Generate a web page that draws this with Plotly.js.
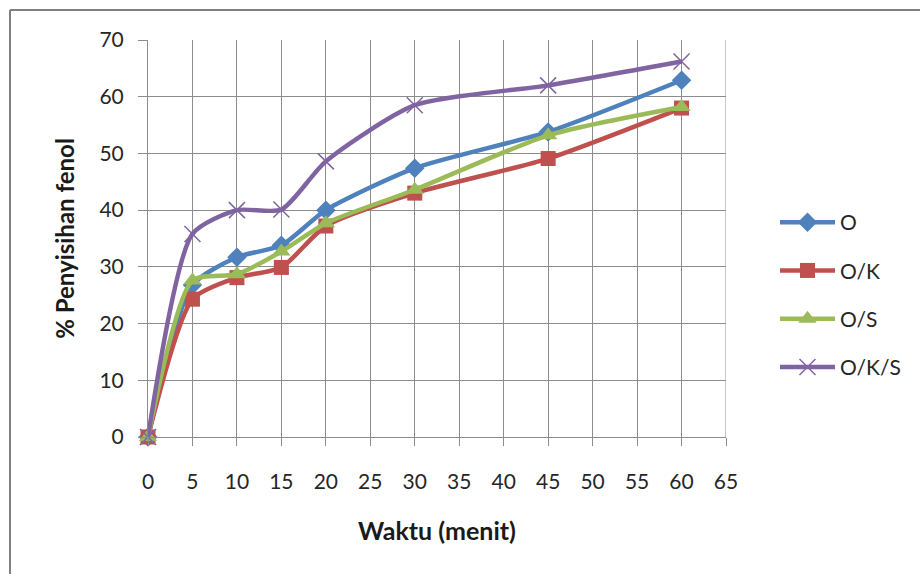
<!DOCTYPE html>
<html>
<head>
<meta charset="utf-8">
<script src="https://cdn.plot.ly/plotly-3.0.1.min.js"></script>
<style>
  html, body { margin: 0; padding: 0; background: #ffffff; }
  #chart { width: 920px; height: 574px; }
</style>
</head>
<body>
<div id="chart"></div>
<script>
// Time axis (minutes)
const waktu = [0, 5, 10, 15, 20, 30, 45, 60];

// Phenol removal (%) per treatment
const seriesO    = [0, 26.8, 31.7, 33.8, 40.0, 47.4, 53.8, 62.9];
const seriesOK   = [0, 24.3, 28.1, 29.9, 37.2, 43.0, 49.1, 58.0];
const seriesOS   = [0, 27.6, 28.7, 32.7, 37.7, 43.6, 53.2, 58.2];
const seriesOKS  = [0, 35.8, 40.0, 40.1, 48.6, 58.5, 62.0, 66.2];

const seriesNames = ['O', 'O/K', 'O/S', 'O/K/S'];
const xTicks = [0, 5, 10, 15, 20, 25, 30, 35, 40, 45, 50, 55, 60, 65];
const yTicks = [0, 10, 20, 30, 40, 50, 60, 70];

const FONT = 'Lato, "Open Sans", sans-serif';
const gridColor = '#8c8c8c';

function trace(y, name, color, symbol, msize, extraMarker) {
  return {
    x: waktu, y: y, name: name,
    type: 'scatter', mode: 'lines+markers',
    legendgroup: name,
    line: { color: color, width: 4.5, shape: 'spline', smoothing: 0.65 },
    marker: Object.assign({ color: color, symbol: symbol, size: msize }, extraMarker || {}),
    cliponaxis: false
  };
}

const data = [
  trace(seriesO,   seriesNames[0], '#4F81BD', 'diamond', 15),
  trace(seriesOK,  seriesNames[1], '#C0504D', 'square', 15),
  trace(seriesOS,  seriesNames[2], '#9BBB59', 'triangle-up', 16),
  trace(seriesOKS, seriesNames[3], '#8064A2', 'x-thin-open', 16, { line: { color: '#8064A2', width: 1.5 } })
];

const M = { l: 148, r: 194, t: 40, b: 137 };
const W = 920, H = 574;
const pw = W - M.l - M.r, ph = H - M.t - M.b;
const px = v => (v - M.l) / pw;
const py = v => (H - M.b - v) / ph;

const layout = {
  width: W, height: H,
  margin: M,
  paper_bgcolor: '#ffffff',
  plot_bgcolor: '#ffffff',
  font: { family: FONT, size: 20, color: '#262626' },
  showlegend: true,
  legend: {
    x: px(775), y: py(202), xanchor: 'left', yanchor: 'top',
    font: { family: FONT, size: 21, color: '#262626' },
    itemwidth: 55,
    tracegroupgap: 18,
    bgcolor: 'rgba(0,0,0,0)'
  },
  xaxis: {
    range: [0, 65],
    tickvals: xTicks,
    ticktext: xTicks.map(String),
    showgrid: true, gridcolor: gridColor, gridwidth: 1,
    showline: true, linecolor: gridColor, linewidth: 1,
    zeroline: false,
    ticks: 'outside', ticklen: 8, tickcolor: gridColor,
    ticklabelstandoff: 18,
    tickfont: { family: FONT, size: 21, color: '#262626' },
    title: { text: 'Waktu (menit)', font: { family: FONT, size: 25, color: '#1a1a1a', weight: 'bold' }, standoff: 30 },
    fixedrange: true
  },
  yaxis: {
    range: [0, 70],
    tickvals: yTicks,
    ticktext: yTicks.map(String),
    showgrid: true, gridcolor: gridColor, gridwidth: 1,
    showline: true, linecolor: gridColor, linewidth: 1,
    zeroline: false,
    ticks: 'outside', ticklen: 9, tickcolor: gridColor,
    ticklabelstandoff: 10,
    tickfont: { family: FONT, size: 21, color: '#262626' },
    title: { text: '% Penyisihan fenol', font: { family: FONT, size: 24, color: '#1a1a1a', weight: 'bold' }, standoff: 18 },
    fixedrange: true
  },
  shapes: [
    // outer chart frame (left and top edges)
    { type: 'line', xref: 'paper', yref: 'paper', x0: px(10), x1: px(10), y0: py(10), y1: py(580),
      line: { color: '#7f7f7f', width: 2 } },
    { type: 'line', xref: 'paper', yref: 'paper', x0: px(10), x1: px(925), y0: py(10), y1: py(10),
      line: { color: '#7f7f7f', width: 2 } },
    // right gridline edge at 65
    { type: 'line', xref: 'x', yref: 'paper', x0: 65, x1: 65, y0: 0, y1: 1,
      line: { color: gridColor, width: 1 }, layer: 'below' }
  ]
};

Plotly.newPlot('chart', data, layout, { staticPlot: true, displayModeBar: false });
</script>
</body>
</html>
